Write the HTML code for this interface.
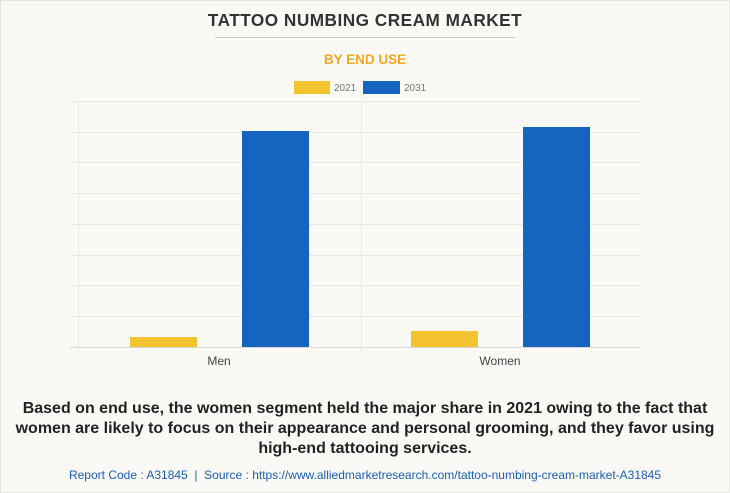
<!DOCTYPE html>
<html><head><style>
body{margin:0;width:730px;height:493px;background:#faf9f5;font-family:"Liberation Sans",Arial,sans-serif;overflow:hidden;position:relative}
.frame{position:absolute;left:0;top:0;width:728px;height:491px;border:1px solid #e4e4e4}
</style></head><body>
<div class="frame"></div>
<svg width="730" height="493" style="position:absolute;left:0;top:0">
<text x="365" y="26" text-anchor="middle" font-size="17.2" font-weight="bold" fill="#333" letter-spacing="0.5">TATTOO NUMBING CREAM MARKET</text>
<line x1="215" y1="37.5" x2="515" y2="37.5" stroke="#c8c8c8" stroke-width="1"/>
<text x="365" y="64" text-anchor="middle" font-size="13.5" font-weight="bold" fill="#f5a623">BY END USE</text>
<rect x="294" y="81" width="36" height="13" fill="#f4c430"/>
<text x="334" y="91" font-size="10" fill="#777">2021</text>
<rect x="363" y="81" width="37" height="13" fill="#1565c0"/>
<text x="404" y="91" font-size="10" fill="#777">2031</text>
<g stroke="#e8e7e2" stroke-width="1">
<line x1="70" y1="101.5" x2="640" y2="101.5"/>
<line x1="70" y1="132.5" x2="640" y2="132.5"/>
<line x1="70" y1="162.5" x2="640" y2="162.5"/>
<line x1="70" y1="193.5" x2="640" y2="193.5"/>
<line x1="70" y1="224.5" x2="640" y2="224.5"/>
<line x1="70" y1="255.5" x2="640" y2="255.5"/>
<line x1="70" y1="285.5" x2="640" y2="285.5"/>
<line x1="70" y1="316.5" x2="640" y2="316.5"/>
<line x1="78.5" y1="101" x2="78.5" y2="347"/>
<line x1="361.5" y1="101" x2="361.5" y2="354"/>
</g>
<line x1="70" y1="347.5" x2="640" y2="347.5" stroke="#d8d8d8"/>
<rect x="130" y="337" width="67" height="10" fill="#f4c430"/>
<rect x="242" y="131" width="67" height="216" fill="#1565c0"/>
<rect x="411" y="331" width="67" height="16" fill="#f4c430"/>
<rect x="523" y="127" width="67" height="220" fill="#1565c0"/>
<text x="219" y="365" text-anchor="middle" font-size="12" fill="#444">Men</text>
<text x="500" y="365" text-anchor="middle" font-size="12" fill="#444">Women</text>
<g font-size="16" font-weight="bold" fill="#222" text-anchor="middle">
<text x="365" y="413">Based on end use, the women segment held the major share in 2021 owing to the fact that</text>
<text x="365" y="433">women are likely to focus on their appearance and personal grooming, and they favor using</text>
<text x="365" y="453">high-end tattooing services.</text>
</g>
<text x="365" y="479" text-anchor="middle" font-size="12" fill="#1a5fb4" xml:space="preserve">Report Code : A31845  |  Source : https://www.alliedmarketresearch.com/tattoo-numbing-cream-market-A31845</text>
</svg>
</body></html>
